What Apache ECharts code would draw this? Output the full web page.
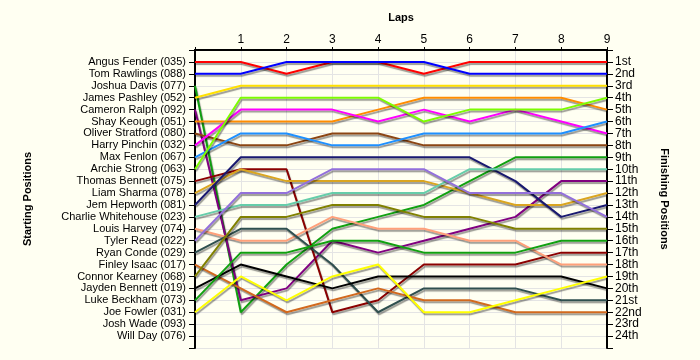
<!DOCTYPE html>
<html>
<head>
<meta charset="utf-8">
<script src="https://cdn.jsdelivr.net/npm/echarts@6/dist/echarts.min.js"></script>
<style>
html,body{margin:0;padding:0;background:#FFFFF2;}
#chart{width:700px;height:360px;}
</style>
</head>
<body>
<div id="chart"></div>
<script>
var laps = [0,1,2,3,4,5,6,7,8,9];
var lapLabels = ['', '1','2','3','4','5','6','7','8','9'];
var drivers = ['Angus Fender (035)','Tom Rawlings (088)','Joshua Davis (077)','James Pashley (052)','Cameron Ralph (092)','Shay Keough (051)','Oliver Stratford (080)','Harry Pinchin (032)','Max Fenlon (067)','Archie Strong (063)','Thomas Bennett (075)','Liam Sharma (078)','Jem Hepworth (081)','Charlie Whitehouse (023)','Louis Harvey (074)','Tyler Read (022)','Ryan Conde (029)','Finley Isaac (017)','Connor Kearney (068)','Jayden Bennett (019)','Luke Beckham (073)','Joe Fowler (031)','Josh Wade (093)','Will Day (076)'];
var finishLabels = ['1st','2nd','3rd','4th','5th','6th','7th','8th','9th','10th','11th','12th','13th','14th','15th','16th','17th','18th','19th','20th','21st','22nd','23rd','24th'];

var angus   = [1,1,2,1,1,2,1,1,1,1];
var tom     = [2,2,1,1,1,1,2,2,2,2];
var joshua  = [3,22,18,15,14,13,11,9,9,9];
var james   = [4,3,3,3,3,3,3,3,3,3];
var cameron = [5,21,20,16,17,16,15,14,11,11];
var shay    = [6,6,6,6,5,4,4,4,4,5];
var oliver  = [7,8,8,7,7,8,8,8,8,8];
var harry   = [8,5,5,5,6,5,6,5,6,7];
var max     = [9,7,7,8,8,7,7,7,7,6];
var archie  = [10,4,4,4,4,6,5,5,5,4];
var thomas  = [11,10,10,22,21,18,18,18,17,17];
var liam    = [12,10,11,11,11,11,12,13,13,12];
var jem     = [13,9,9,9,9,9,9,11,14,13];
var charlie = [14,13,13,12,12,12,10,10,10,10];
var louis   = [15,16,16,14,15,15,16,16,18,18];
var tyler   = [16,12,12,10,10,10,12,12,12,14];
var ryan    = [17,15,15,18,22,20,20,20,21,21];
var finley  = [18,20,22,21,20,21,21,22,22,22];
var connor  = [19,14,14,13,13,14,14,15,15,15];
var jayden  = [20,18,19,20,19,19,19,19,19,20];
var luke    = [21,17,17,16,16,17,17,17,16,16];
var joe     = [22,19,21,19,18,22,22,21,20,19];

var positions = [angus,tom,joshua,james,cameron,shay,oliver,harry,max,archie,thomas,liam,jem,charlie,louis,tyler,ryan,finley,connor,jayden,luke,joe];
var colors = ['#FF0000','#0000FF','#10A010','#FFE000','#800080','#FF8C00','#8B4513','#FF00FF','#1E90FF','#7CFC00','#8B0000','#DAA520','#191970','#66CDAA','#FFA07A','#9370DB','#2F4F4F','#D2691E','#808000','#000000','#10A010','#FFFF00'];

var font = 'Liberation Sans, Arial, sans-serif';
var series = positions.map(function(p, i){
  return {
    type:'line', name: drivers[i], symbol:'none', animation:false,
    data: laps.map(function(l, j){ return [l, p[j]]; }),
    lineStyle:{color:colors[i], width:2, shadowColor:'rgba(0,0,0,0.4)', shadowOffsetX:1, shadowOffsetY:2, shadowBlur:1},
    itemStyle:{color:colors[i]}
  };
});

var chart = echarts.init(document.getElementById('chart'));
chart.setOption({
  backgroundColor:'#FFFFF2',
  animation:false,
  grid:{left:195, right:93, top:50, bottom:12},
  xAxis:{
    type:'value', position:'top', min:0, max:9, interval:1,
    name:'Laps', nameLocation:'middle', nameGap:27,
    nameTextStyle:{fontFamily:font, fontSize:11, fontWeight:'bold', color:'#000'},
    axisLine:{lineStyle:{color:'#000', width:2}},
    axisTick:{length:3, lineStyle:{color:'#000'}},
    axisLabel:{fontFamily:font, fontSize:12, color:'#000', margin:4, formatter:function(v){return lapLabels[v] || '';}},
    splitLine:{show:true, lineStyle:{color:'#E4E4E4', width:1}}
  },
  yAxis:[{
    type:'value', inverse:true, min:0, max:25, interval:1, position:'left',
    name:'Starting Positions', nameLocation:'middle', nameGap:162, nameRotate:90,
    nameTextStyle:{fontFamily:font, fontSize:11, fontWeight:'bold', color:'#000'},
    axisLine:{show:true, lineStyle:{color:'#000', width:2}},
    axisTick:{show:true, length:6, lineStyle:{color:'#000'}},
    axisLabel:{fontFamily:font, fontSize:11, color:'#000', margin:9, showMinLabel:true, showMaxLabel:true,
      formatter:function(v){return drivers[v-1] || '';}},
    splitLine:{show:true, lineStyle:{color:'#E4E4E4', width:1}}
  },{
    type:'value', inverse:true, min:0, max:25, interval:1, position:'right',
    name:'Finishing Positions', nameLocation:'middle', nameGap:52, nameRotate:-90,
    nameTextStyle:{fontFamily:font, fontSize:11, fontWeight:'bold', color:'#000'},
    axisLine:{show:true, lineStyle:{color:'#000', width:2}},
    axisTick:{show:true, length:6, lineStyle:{color:'#000'}},
    axisLabel:{fontFamily:font, fontSize:12, color:'#000', margin:8,
      formatter:function(v){return finishLabels[v-1] || '';}},
    splitLine:{show:false}
  }],
  series: series
});
</script>
</body>
</html>
